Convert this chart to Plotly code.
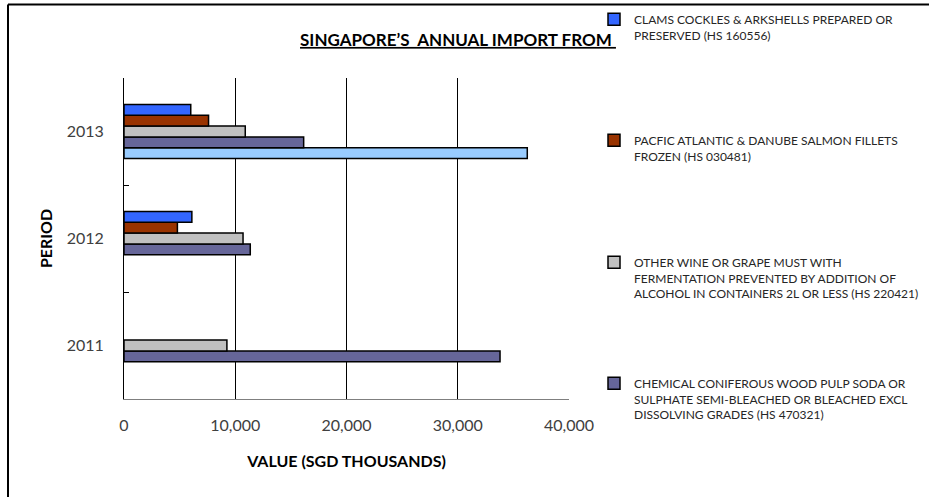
import plotly.graph_objects as go

# ---- data ----
years = ["2011", "2012", "2013"]
clams = [None, 6100, 6000]
salmon = [None, 4800, 7600]
wine = [9250, 10700, 10900]
pulp = [33800, 11350, 16150]
fifth = [None, None, 36250]

names = {
    "clams": "CLAMS COCKLES & ARKSHELLS PREPARED OR<br>PRESERVED (HS 160556)",
    "salmon": "PACFIC ATLANTIC & DANUBE SALMON FILLETS<br>FROZEN (HS 030481)",
    "wine": "OTHER WINE OR GRAPE MUST WITH<br>FERMENTATION PREVENTED BY ADDITION OF<br>ALCOHOL IN CONTAINERS 2L OR LESS (HS 220421)",
    "pulp": "CHEMICAL CONIFEROUS WOOD PULP SODA OR<br>SULPHATE SEMI-BLEACHED OR BLEACHED EXCL<br>DISSOLVING GRADES (HS 470321)",
}

FONT = "Lato"
W, H = 929, 497
L, R, T, B = 124, 569, 78, 399  # plot area pixels
pw, ph = R - L, B - T

def px2x(px):
    return (px - L) / pw

def py2y(py):
    return (B - py) / ph

fig = go.Figure()
line = dict(color="black", width=1.5)

# bottom-to-top order inside each group
fig.add_trace(go.Bar(y=years, x=fifth, orientation="h", name="OTHER",
                     marker=dict(color="#99CCFF", line=line), showlegend=False))
fig.add_trace(go.Bar(y=years, x=pulp, orientation="h", name=names["pulp"],
                     marker=dict(color="#666699", line=line), legend="legend4"))
fig.add_trace(go.Bar(y=years, x=wine, orientation="h", name=names["wine"],
                     marker=dict(color="#C0C0C0", line=line), legend="legend3"))
fig.add_trace(go.Bar(y=years, x=salmon, orientation="h", name=names["salmon"],
                     marker=dict(color="#993300", line=line), legend="legend2"))
fig.add_trace(go.Bar(y=years, x=clams, orientation="h", name=names["clams"],
                     marker=dict(color="#3366FF", line=line), legend="legend"))

leg_font = dict(family=FONT, size=12, color="#262626")
leg_x = px2x(594)
def leg(py):
    return dict(x=leg_x, y=py2y(py), xanchor="left", yanchor="top",
                font=leg_font, valign="top", bgcolor="rgba(0,0,0,0)",
                borderwidth=0, tracegroupgap=0)

fig.update_layout(
    width=W, height=H,
    margin=dict(l=L, r=W - R, t=T, b=H - B, autoexpand=False),
    paper_bgcolor="white", plot_bgcolor="white",
    barmode="group", bargap=0.495, bargroupgap=0,
    title=dict(text="<b><u>SINGAPORE\u2019S\u00a0\u00a0ANNUAL IMPORT FROM\u00a0</u></b>",
               x=458 / W, xanchor="center", xref="container",
               y=1 - 40 / H, yanchor="middle", yref="container",
               font=dict(family=FONT, size=17, color="black")),
    legend=leg(5),
    legend2=leg(126),
    legend3=leg(248),
    legend4=leg(369),
    xaxis=dict(range=[0, 40000], tickvals=[0, 10000, 20000, 30000, 40000],
               tickformat=",d", showgrid=True, gridcolor="black", gridwidth=1,
               showline=True, linecolor="#7f7f7f", linewidth=1, zeroline=False,
               ticks="", ticklabelstandoff=12, automargin=False,
               tickfont=dict(family=FONT, size=16, color="#404040"),
               title=dict(text="<b>VALUE (SGD THOUSANDS)</b>", standoff=22,
                          font=dict(family=FONT, size=16, color="black"))),
    yaxis=dict(type="category", categoryorder="array", categoryarray=years,
               range=[-0.5, 2.5], showgrid=False, showline=True,
               linecolor="black", linewidth=1, ticks="inside", tickson="boundaries",
               ticklen=5, tickcolor="black", ticklabelstandoff=16, automargin=False,
               tickfont=dict(family=FONT, size=16, color="#404040"),
               title=dict(text="<b>PERIOD</b>", standoff=10,
                          font=dict(family=FONT, size=16, color="black"))),
    shapes=[
        dict(type="line", xref="paper", yref="paper",
             x0=px2x(8), x1=px2x(8), y0=py2y(4.5), y1=py2y(520),
             line=dict(color="black", width=2)),
        dict(type="line", xref="paper", yref="paper",
             x0=px2x(8), x1=px2x(960), y0=py2y(4.5), y1=py2y(4.5),
             line=dict(color="black", width=2)),
    ],
)

fig.write_html("out.html")
